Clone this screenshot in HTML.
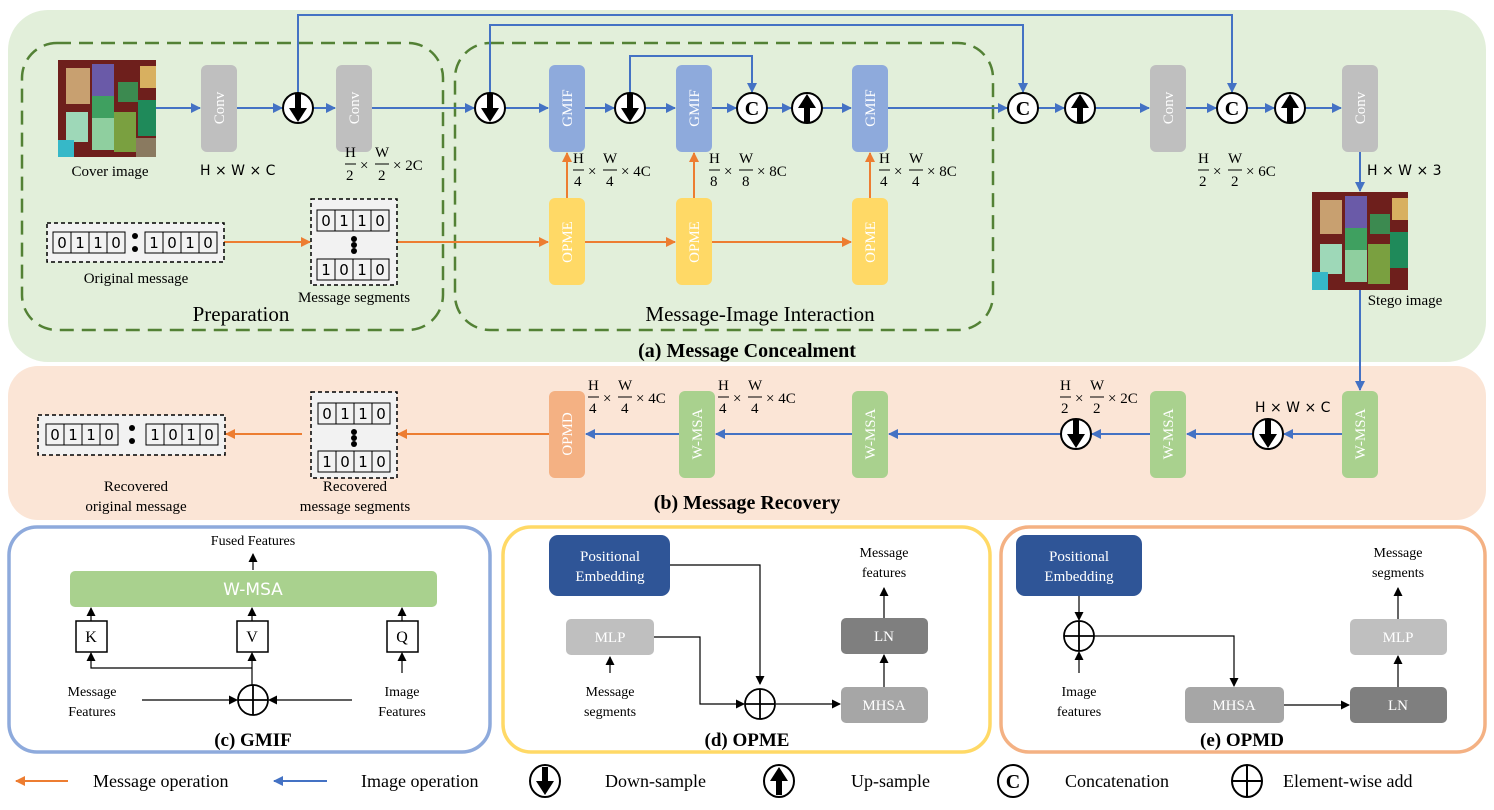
<!DOCTYPE html>
<html><head><meta charset="utf-8"><style>
html,body{margin:0;padding:0;background:#fff}
svg{display:block}
text{font-family:"Liberation Serif",serif;}
.s, .s text, text.s{font-family:"DejaVu Sans","Liberation Sans",sans-serif;}
</style></head><body>
<svg width="1494" height="810" viewBox="0 0 1494 810" xmlns="http://www.w3.org/2000/svg">
<defs>
<marker id="ab" markerWidth="10" markerHeight="10" refX="9" refY="5" orient="auto" markerUnits="userSpaceOnUse"><path d="M0,0 L10,5 L0,10 z" fill="#4472c4"/></marker>
<marker id="ao" markerWidth="10" markerHeight="10" refX="9" refY="5" orient="auto" markerUnits="userSpaceOnUse"><path d="M0,0 L10,5 L0,10 z" fill="#ed7d31"/></marker>
<marker id="ak" markerWidth="9" markerHeight="9" refX="8" refY="4.5" orient="auto" markerUnits="userSpaceOnUse"><path d="M0,0 L9,4.5 L0,9 z" fill="#000"/></marker>
</defs>

<rect x="8" y="10" width="1478" height="352" rx="40" fill="#e2efda"/>
<rect x="8" y="366" width="1478" height="154" rx="30" fill="#fbe5d6"/>
<rect x="22" y="43" width="421" height="287" rx="35" fill="none" stroke="#538135" stroke-width="2.5" stroke-dasharray="14,8"/>
<rect x="455" y="43" width="538" height="287" rx="35" fill="none" stroke="#538135" stroke-width="2.5" stroke-dasharray="14,8"/>

<g>
<rect x="58" y="60" width="98" height="97" fill="#6e1f1c"/>
<rect x="66" y="68" width="24" height="36" fill="#c8a070"/>
<rect x="92" y="64" width="22" height="36" fill="#6a5aa8"/>
<rect x="118" y="82" width="20" height="20" fill="#3c8a50"/>
<rect x="140" y="66" width="16" height="22" fill="#d8b060"/>
<rect x="92" y="96" width="22" height="22" fill="#3fa060"/>
<rect x="66" y="112" width="22" height="30" fill="#9ed8b8"/>
<rect x="92" y="118" width="22" height="32" fill="#8fcf9f"/>
<rect x="114" y="112" width="22" height="40" fill="#7aa040"/>
<rect x="138" y="100" width="18" height="36" fill="#1f8a5a"/>
<rect x="58" y="140" width="16" height="17" fill="#36b8c8"/>
<rect x="136" y="138" width="20" height="19" fill="#8a7a60"/>
</g>
<text x="110" y="176" font-size="15" text-anchor="middle">Cover image</text>

<g>
<rect x="1312" y="192" width="96" height="98" fill="#6e1f1c"/>
<rect x="1320" y="200" width="22" height="34" fill="#c8a070"/>
<rect x="1345" y="196" width="22" height="36" fill="#6a5aa8"/>
<rect x="1370" y="214" width="20" height="20" fill="#3c8a50"/>
<rect x="1392" y="198" width="16" height="22" fill="#d8b060"/>
<rect x="1345" y="228" width="22" height="22" fill="#3fa060"/>
<rect x="1320" y="244" width="22" height="30" fill="#9ed8b8"/>
<rect x="1345" y="250" width="22" height="32" fill="#8fcf9f"/>
<rect x="1368" y="244" width="22" height="40" fill="#7aa040"/>
<rect x="1390" y="232" width="18" height="36" fill="#1f8a5a"/>
<rect x="1312" y="272" width="16" height="18" fill="#36b8c8"/>
</g>
<text x="1405" y="305" font-size="15" text-anchor="middle">Stego image</text>

<g fill="#bfbfbf">
<rect x="201" y="65" width="36" height="87" rx="6"/>
<rect x="336" y="65" width="36" height="87" rx="6"/>
<rect x="1150" y="65" width="36" height="87" rx="6"/>
<rect x="1342" y="65" width="36" height="87" rx="6"/>
</g>
<g fill="#8eaadc">
<rect x="549" y="65" width="36" height="87" rx="6"/>
<rect x="676" y="65" width="36" height="87" rx="6"/>
<rect x="852" y="65" width="36" height="87" rx="6"/>
</g>
<g fill="#ffd966">
<rect x="549" y="198" width="36" height="87" rx="6"/>
<rect x="676" y="198" width="36" height="87" rx="6"/>
<rect x="852" y="198" width="36" height="87" rx="6"/>
</g>
<g fill="#fff" font-size="15" text-anchor="middle">
<text transform="translate(224,108) rotate(-90)">Conv</text>
<text transform="translate(359,108) rotate(-90)">Conv</text>
<text transform="translate(1173,108) rotate(-90)">Conv</text>
<text transform="translate(1365,108) rotate(-90)">Conv</text>
<text transform="translate(572,108) rotate(-90)">GMIF</text>
<text transform="translate(699,108) rotate(-90)">GMIF</text>
<text transform="translate(875,108) rotate(-90)">GMIF</text>
<text transform="translate(572,242) rotate(-90)">OPME</text>
<text transform="translate(699,242) rotate(-90)">OPME</text>
<text transform="translate(875,242) rotate(-90)">OPME</text>
</g>

<g stroke="#4472c4" stroke-width="2" fill="none" marker-end="url(#ab)">
<line x1="156" y1="108" x2="200" y2="108"/>
<line x1="237" y1="108" x2="282" y2="108"/>
<line x1="313" y1="108" x2="335" y2="108"/>
<line x1="372" y1="108" x2="474" y2="108"/>
<line x1="505" y1="108" x2="548" y2="108"/>
<line x1="585" y1="108" x2="614" y2="108"/>
<line x1="645" y1="108" x2="675" y2="108"/>
<line x1="712" y1="108" x2="736" y2="108"/>
<line x1="767" y1="108" x2="791" y2="108"/>
<line x1="822" y1="108" x2="851" y2="108"/>
<line x1="888" y1="108" x2="1007" y2="108"/>
<line x1="1038" y1="108" x2="1064" y2="108"/>
<line x1="1095" y1="108" x2="1149" y2="108"/>
<line x1="1186" y1="108" x2="1216" y2="108"/>
<line x1="1247" y1="108" x2="1274" y2="108"/>
<line x1="1305" y1="108" x2="1341" y2="108"/>
<polyline points="298,93 298,15 1232,15 1232,92"/>
<polyline points="490,93 490,25 1023,25 1023,92"/>
<polyline points="630,93 630,56 752,56 752,92"/>
<line x1="1360" y1="152" x2="1360" y2="191"/>
<line x1="1360" y1="290" x2="1360" y2="390"/>
<line x1="1342" y1="434" x2="1284" y2="434"/>
<line x1="1253" y1="434" x2="1187" y2="434"/>
<line x1="1150" y1="434" x2="1092" y2="434"/>
<line x1="1061" y1="434" x2="889" y2="434"/>
<line x1="852" y1="434" x2="716" y2="434"/>
<line x1="679" y1="434" x2="586" y2="434"/>
</g>
<g stroke="#ed7d31" stroke-width="2" fill="none" marker-end="url(#ao)">
<line x1="567" y1="198" x2="567" y2="153"/>
<line x1="694" y1="198" x2="694" y2="153"/>
<line x1="870" y1="198" x2="870" y2="153"/>
<line x1="224" y1="242" x2="310" y2="242"/>
<line x1="397" y1="242" x2="548" y2="242"/>
<line x1="585" y1="242" x2="675" y2="242"/>
<line x1="712" y1="242" x2="851" y2="242"/>
<line x1="549" y1="434" x2="398" y2="434"/>
<line x1="302" y1="434" x2="226" y2="434"/>
</g>

<g stroke="#000" stroke-width="2">
<g transform="translate(298,108)"><circle r="15" fill="#fff"/><path d="M-3,-14 H3 V0 H9 L0,14 L-9,0 H-3 Z" fill="#000" stroke="none"/></g>
<g transform="translate(490,108)"><circle r="15" fill="#fff"/><path d="M-3,-14 H3 V0 H9 L0,14 L-9,0 H-3 Z" fill="#000" stroke="none"/></g>
<g transform="translate(630,108)"><circle r="15" fill="#fff"/><path d="M-3,-14 H3 V0 H9 L0,14 L-9,0 H-3 Z" fill="#000" stroke="none"/></g>
<g transform="translate(807,108)"><circle r="15" fill="#fff"/><path d="M-3,14 H3 V0 H9 L0,-14 L-9,0 H-3 Z" fill="#000" stroke="none"/></g>
<g transform="translate(1080,108)"><circle r="15" fill="#fff"/><path d="M-3,14 H3 V0 H9 L0,-14 L-9,0 H-3 Z" fill="#000" stroke="none"/></g>
<g transform="translate(1290,108)"><circle r="15" fill="#fff"/><path d="M-3,14 H3 V0 H9 L0,-14 L-9,0 H-3 Z" fill="#000" stroke="none"/></g>
<g transform="translate(752,108)"><circle r="15" fill="#fff"/></g>
<g transform="translate(1023,108)"><circle r="15" fill="#fff"/></g>
<g transform="translate(1232,108)"><circle r="15" fill="#fff"/></g>
<g transform="translate(1268,434)"><circle r="15" fill="#fff"/><path d="M-3,-14 H3 V0 H9 L0,14 L-9,0 H-3 Z" fill="#000" stroke="none"/></g>
<g transform="translate(1076,434)"><circle r="15" fill="#fff"/><path d="M-3,-14 H3 V0 H9 L0,14 L-9,0 H-3 Z" fill="#000" stroke="none"/></g>
</g>
<g font-size="20" font-weight="bold" text-anchor="middle">
<text x="752" y="115">C</text><text x="1023" y="115">C</text><text x="1232" y="115">C</text>
</g>

<g font-size="14" class="s">
<text x="200" y="175">H × W × C</text>
<text x="1367" y="175">H × W × 3</text>
<text x="1255" y="412">H × W × C</text>
</g>
<g font-size="15">
<g transform="translate(345,157)"><text x="0" y="0">H</text><line x1="0" y1="7" x2="11" y2="7" stroke="#000"/><text x="1" y="23">2</text><text x="15" y="13">×</text><text x="30" y="0">W</text><line x1="30" y1="7" x2="44" y2="7" stroke="#000"/><text x="33" y="23">2</text><text x="48" y="13">× 2C</text></g>
<g transform="translate(573,163)"><text x="0" y="0">H</text><line x1="0" y1="7" x2="11" y2="7" stroke="#000"/><text x="1" y="23">4</text><text x="15" y="13">×</text><text x="30" y="0">W</text><line x1="30" y1="7" x2="44" y2="7" stroke="#000"/><text x="33" y="23">4</text><text x="48" y="13">× 4C</text></g>
<g transform="translate(709,163)"><text x="0" y="0">H</text><line x1="0" y1="7" x2="11" y2="7" stroke="#000"/><text x="1" y="23">8</text><text x="15" y="13">×</text><text x="30" y="0">W</text><line x1="30" y1="7" x2="44" y2="7" stroke="#000"/><text x="33" y="23">8</text><text x="48" y="13">× 8C</text></g>
<g transform="translate(879,163)"><text x="0" y="0">H</text><line x1="0" y1="7" x2="11" y2="7" stroke="#000"/><text x="1" y="23">4</text><text x="15" y="13">×</text><text x="30" y="0">W</text><line x1="30" y1="7" x2="44" y2="7" stroke="#000"/><text x="33" y="23">4</text><text x="48" y="13">× 8C</text></g>
<g transform="translate(1198,163)"><text x="0" y="0">H</text><line x1="0" y1="7" x2="11" y2="7" stroke="#000"/><text x="1" y="23">2</text><text x="15" y="13">×</text><text x="30" y="0">W</text><line x1="30" y1="7" x2="44" y2="7" stroke="#000"/><text x="33" y="23">2</text><text x="48" y="13">× 6C</text></g>
<g transform="translate(588,390)"><text x="0" y="0">H</text><line x1="0" y1="7" x2="11" y2="7" stroke="#000"/><text x="1" y="23">4</text><text x="15" y="13">×</text><text x="30" y="0">W</text><line x1="30" y1="7" x2="44" y2="7" stroke="#000"/><text x="33" y="23">4</text><text x="48" y="13">× 4C</text></g>
<g transform="translate(718,390)"><text x="0" y="0">H</text><line x1="0" y1="7" x2="11" y2="7" stroke="#000"/><text x="1" y="23">4</text><text x="15" y="13">×</text><text x="30" y="0">W</text><line x1="30" y1="7" x2="44" y2="7" stroke="#000"/><text x="33" y="23">4</text><text x="48" y="13">× 4C</text></g>
<g transform="translate(1060,390)"><text x="0" y="0">H</text><line x1="0" y1="7" x2="11" y2="7" stroke="#000"/><text x="1" y="23">2</text><text x="15" y="13">×</text><text x="30" y="0">W</text><line x1="30" y1="7" x2="44" y2="7" stroke="#000"/><text x="33" y="23">2</text><text x="48" y="13">× 2C</text></g>
</g>

<g stroke="#000" stroke-width="1.5" stroke-dasharray="4,3" fill="#f2f2f2">
<rect x="47" y="223" width="177" height="39"/>
<rect x="311" y="199" width="86" height="86"/>
<rect x="38" y="415" width="187" height="40"/>
<rect x="311" y="392" width="86" height="86"/>
</g>
<g stroke="#000" stroke-width="1" fill="#f2f2f2">
<rect x="53" y="232" width="72" height="21"/><rect x="145" y="232" width="72" height="21"/>
<rect x="317" y="210" width="72" height="21"/><rect x="317" y="259" width="72" height="21"/>
<rect x="46" y="424" width="72" height="21"/><rect x="146" y="424" width="72" height="21"/>
<rect x="318" y="403" width="72" height="21"/><rect x="318" y="451" width="72" height="21"/>
<path d="M71,232v21M89,232v21M107,232v21M163,232v21M181,232v21M199,232v21M335,210v21M353,210v21M371,210v21M335,259v21M353,259v21M371,259v21M64,424v21M82,424v21M100,424v21M164,424v21M182,424v21M200,424v21M336,403v21M354,403v21M372,403v21M336,451v21M354,451v21M372,451v21"/>
</g>
<g fill="#000">
<circle cx="135" cy="236" r="3"/><circle cx="135" cy="249" r="3"/>
<circle cx="354" cy="239" r="3"/><circle cx="354" cy="245" r="3"/><circle cx="354" cy="251" r="3"/>
<circle cx="132" cy="428" r="3"/><circle cx="132" cy="441" r="3"/>
<circle cx="354" cy="432" r="3"/><circle cx="354" cy="438" r="3"/><circle cx="354" cy="444" r="3"/>
</g>
<g class="s" font-size="15" text-anchor="middle">
<text x="62" y="248">0</text><text x="80" y="248">1</text><text x="98" y="248">1</text><text x="116" y="248">0</text>
<text x="154" y="248">1</text><text x="172" y="248">0</text><text x="190" y="248">1</text><text x="208" y="248">0</text>
<text x="326" y="226">0</text><text x="344" y="226">1</text><text x="362" y="226">1</text><text x="380" y="226">0</text>
<text x="326" y="275">1</text><text x="344" y="275">0</text><text x="362" y="275">1</text><text x="380" y="275">0</text>
<text x="55" y="440">0</text><text x="73" y="440">1</text><text x="91" y="440">1</text><text x="109" y="440">0</text>
<text x="155" y="440">1</text><text x="173" y="440">0</text><text x="191" y="440">1</text><text x="209" y="440">0</text>
<text x="327" y="419">0</text><text x="345" y="419">1</text><text x="363" y="419">1</text><text x="381" y="419">0</text>
<text x="327" y="467">1</text><text x="345" y="467">0</text><text x="363" y="467">1</text><text x="381" y="467">0</text>
</g>
<g font-size="15" text-anchor="middle">
<text x="136" y="283">Original message</text>
<text x="354" y="302">Message segments</text>
<text x="136" y="491">Recovered</text><text x="136" y="511">original message</text>
<text x="355" y="491">Recovered</text><text x="355" y="511">message segments</text>
</g>
<text x="241" y="321" font-size="21" text-anchor="middle">Preparation</text>
<text x="760" y="321" font-size="21" text-anchor="middle">Message-Image Interaction</text>
<text x="747" y="357" font-size="20" font-weight="bold" text-anchor="middle">(a) Message Concealment</text>
<text x="747" y="509" font-size="20" font-weight="bold" text-anchor="middle">(b) Message Recovery</text>

<g fill="#a9d18e">
<rect x="679" y="391" width="36" height="87" rx="6"/>
<rect x="852" y="391" width="36" height="87" rx="6"/>
<rect x="1150" y="391" width="36" height="87" rx="6"/>
<rect x="1342" y="391" width="36" height="87" rx="6"/>
</g>
<rect x="549" y="391" width="36" height="87" rx="6" fill="#f4b183"/>
<g fill="#fff" font-size="15" text-anchor="middle">
<text transform="translate(702,434) rotate(-90)">W-MSA</text>
<text transform="translate(875,434) rotate(-90)">W-MSA</text>
<text transform="translate(1173,434) rotate(-90)">W-MSA</text>
<text transform="translate(1365,434) rotate(-90)">W-MSA</text>
<text transform="translate(572,434) rotate(-90)">OPMD</text>
</g>

<rect x="9" y="527" width="481" height="225" rx="28" fill="#fff" stroke="#8eaadc" stroke-width="3.5"/>
<rect x="503" y="527" width="487" height="225" rx="28" fill="#fff" stroke="#ffd966" stroke-width="3.5"/>
<rect x="1001" y="527" width="484" height="225" rx="28" fill="#fff" stroke="#f4b183" stroke-width="3.5"/>

<text x="253" y="545" font-size="14" text-anchor="middle">Fused Features</text>
<rect x="70" y="571" width="367" height="36" rx="5" fill="#a9d18e"/>
<text x="253" y="595" font-size="17" fill="#fff" text-anchor="middle" class="s">W-MSA</text>
<g fill="#fff" stroke="#000" stroke-width="1.5">
<rect x="76" y="621" width="31" height="31"/><rect x="237" y="621" width="31" height="31"/><rect x="387" y="621" width="31" height="31"/>
</g>
<g font-size="16" text-anchor="middle"><text x="91" y="642">K</text><text x="252" y="642">V</text><text x="402" y="642">Q</text></g>
<g stroke="#000" stroke-width="1.2" fill="none" marker-end="url(#ak)">
<line x1="253" y1="570" x2="253" y2="554"/>
<line x1="91" y1="621" x2="91" y2="608"/><line x1="252" y1="621" x2="252" y2="608"/><line x1="402" y1="621" x2="402" y2="608"/>
<line x1="252" y1="685" x2="252" y2="653"/>
<polyline points="252,668 91,668 91,653"/>
<line x1="402" y1="673" x2="402" y2="653"/>
<line x1="142" y1="700" x2="237" y2="700"/>
<line x1="352" y1="700" x2="269" y2="700"/>
</g>
<g stroke="#000" stroke-width="1.8" fill="none"><circle cx="253" cy="700" r="15"/><path d="M238,700h30M253,685v30"/></g>
<g font-size="14" text-anchor="middle">
<text x="92" y="696">Message</text><text x="92" y="716">Features</text>
<text x="402" y="696">Image</text><text x="402" y="716">Features</text>
</g>
<text x="253" y="746" font-size="19" font-weight="bold" text-anchor="middle">(c) GMIF</text>

<rect x="549" y="535" width="121" height="61" rx="9" fill="#2f5597"/>
<text x="610" y="561" font-size="15" fill="#fff" text-anchor="middle">Positional</text>
<text x="610" y="581" font-size="15" fill="#fff" text-anchor="middle">Embedding</text>
<rect x="566" y="619" width="88" height="36" rx="5" fill="#bfbfbf"/>
<text x="610" y="642" font-size="15" fill="#fff" text-anchor="middle">MLP</text>
<rect x="841" y="687" width="87" height="36" rx="5" fill="#a6a6a6"/>
<text x="884" y="710" font-size="15" fill="#fff" text-anchor="middle">MHSA</text>
<rect x="841" y="618" width="87" height="36" rx="5" fill="#7f7f7f"/>
<text x="884" y="641" font-size="15" fill="#fff" text-anchor="middle">LN</text>
<g stroke="#000" stroke-width="1.2" fill="none" marker-end="url(#ak)">
<polyline points="670,565 760,565 760,684"/>
<polyline points="654,637 700,637 700,704 744,704"/>
<line x1="610" y1="673" x2="610" y2="657"/>
<line x1="776" y1="704" x2="840" y2="704"/>
<line x1="884" y1="687" x2="884" y2="655"/>
<line x1="884" y1="618" x2="884" y2="588"/>
</g>
<g stroke="#000" stroke-width="1.8" fill="none"><circle cx="760" cy="704" r="15"/><path d="M745,704h30M760,689v30"/></g>
<g font-size="14" text-anchor="middle">
<text x="610" y="696">Message</text><text x="610" y="716">segments</text>
<text x="884" y="557">Message</text><text x="884" y="577">features</text>
</g>
<text x="747" y="746" font-size="19" font-weight="bold" text-anchor="middle">(d) OPME</text>

<rect x="1016" y="535" width="126" height="61" rx="9" fill="#2f5597"/>
<text x="1079" y="561" font-size="15" fill="#fff" text-anchor="middle">Positional</text>
<text x="1079" y="581" font-size="15" fill="#fff" text-anchor="middle">Embedding</text>
<rect x="1185" y="687" width="99" height="36" rx="5" fill="#a6a6a6"/>
<text x="1234" y="710" font-size="15" fill="#fff" text-anchor="middle">MHSA</text>
<rect x="1350" y="687" width="97" height="36" rx="5" fill="#7f7f7f"/>
<text x="1398" y="710" font-size="15" fill="#fff" text-anchor="middle">LN</text>
<rect x="1350" y="619" width="97" height="36" rx="5" fill="#bfbfbf"/>
<text x="1398" y="642" font-size="15" fill="#fff" text-anchor="middle">MLP</text>
<g stroke="#000" stroke-width="1.2" fill="none" marker-end="url(#ak)">
<line x1="1079" y1="596" x2="1079" y2="620"/>
<line x1="1079" y1="673" x2="1079" y2="652"/>
<polyline points="1094,636 1234,636 1234,686"/>
<line x1="1284" y1="705" x2="1349" y2="705"/>
<line x1="1398" y1="687" x2="1398" y2="656"/>
<line x1="1398" y1="619" x2="1398" y2="588"/>
</g>
<g stroke="#000" stroke-width="1.8" fill="none"><circle cx="1079" cy="636" r="15"/><path d="M1064,636h30M1079,621v30"/></g>
<g font-size="14" text-anchor="middle">
<text x="1079" y="696">Image</text><text x="1079" y="716">features</text>
<text x="1398" y="557">Message</text><text x="1398" y="577">segments</text>
</g>
<text x="1242" y="746" font-size="19" font-weight="bold" text-anchor="middle">(e) OPMD</text>

<line x1="68" y1="781" x2="16" y2="781" stroke="#ed7d31" stroke-width="2" marker-end="url(#ao)"/>
<line x1="327" y1="781" x2="274" y2="781" stroke="#4472c4" stroke-width="2" marker-end="url(#ab)"/>
<g font-size="18">
<text x="93" y="787">Message operation</text>
<text x="361" y="787">Image operation</text>
<text x="605" y="787">Down-sample</text>
<text x="851" y="787">Up-sample</text>
<text x="1065" y="787">Concatenation</text>
<text x="1283" y="787">Element-wise add</text>
</g>
<g stroke="#000" stroke-width="2">
<g transform="translate(545,781)"><ellipse rx="15" ry="16" fill="#fff"/><path d="M-3,-14 H3 V0 H9 L0,14 L-9,0 H-3 Z" fill="#000" stroke="none"/></g>
<g transform="translate(779,781)"><ellipse rx="15" ry="16" fill="#fff"/><path d="M-3,14 H3 V0 H9 L0,-14 L-9,0 H-3 Z" fill="#000" stroke="none"/></g>
<g transform="translate(1013,781)"><ellipse rx="15" ry="16" fill="#fff"/></g>
<g transform="translate(1247,781)" fill="none"><ellipse rx="15" ry="16"/><path d="M-15,0h30M0,-16v32"/></g>
</g>
<text x="1013" y="788" font-size="20" font-weight="bold" text-anchor="middle">C</text>
</svg>
</body></html>
